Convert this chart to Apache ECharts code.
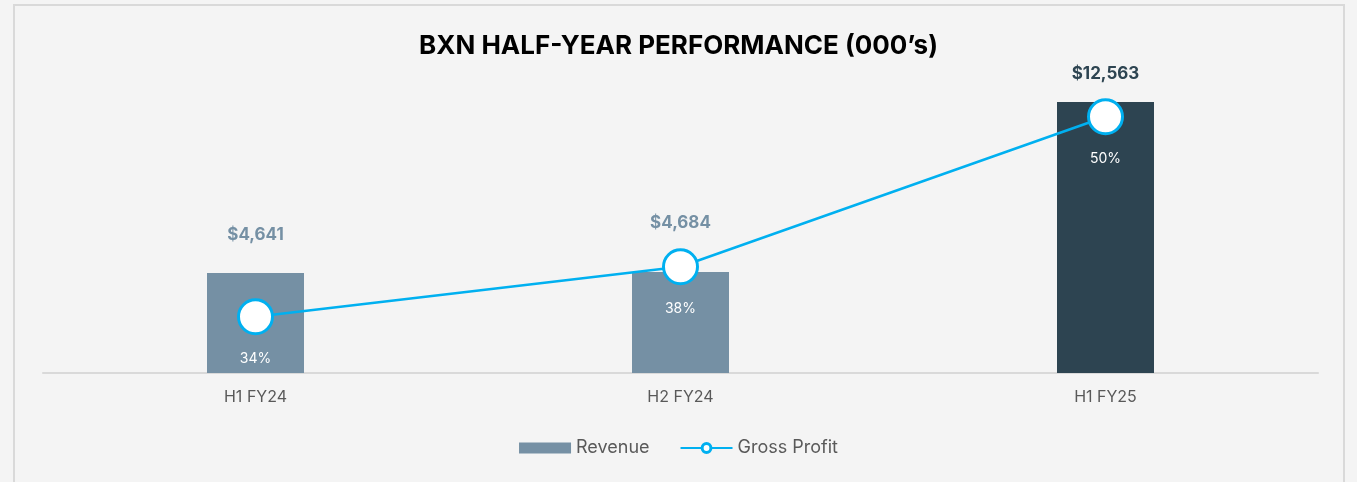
<!DOCTYPE html>
<html>
<head>
<meta charset="utf-8">
<script src="https://cdn.jsdelivr.net/npm/echarts@6/dist/echarts.min.js"></script>
<style>
  html, body { margin: 0; padding: 0; background: #f4f4f4; }
  #frame { position: absolute; left: 13px; top: 4px; width: 1332px; height: 490px; border: 2px solid #d9d9d9; box-sizing: border-box; }
  #chart { width: 1357px; height: 482px; }
</style>
</head>
<body>
<div id="frame"></div>
<div id="chart"></div>
<script>
const categories = ['H1 FY24', 'H2 FY24', 'H1 FY25']
const revenue = [4641, 4684, 12563]
const revenueLabels = ['$4,641', '$4,684', '$12,563']
const grossMargin = [34, 38, 50]

const barColors = ['#7590a4', '#7590a4', '#2d4451']
const labelOffsets = [39, 51, 30]

const chart = echarts.init(document.getElementById('chart'))

chart.setOption({
  backgroundColor: 'transparent',
  textStyle: { fontFamily: 'Inter' },
  title: {
    text: 'BXN HALF-YEAR PERFORMANCE (000\u2019s)',
    left: 'center',
    top: 28,
    textStyle: { fontFamily: 'Inter', fontSize: 26, fontWeight: 'bold', color: '#000' }
  },
  legend: {
    bottom: 20,
    left: 'center',
    itemGap: 30,
    itemWidth: 52,
    itemHeight: 11,
    textStyle: { color: '#595959', fontSize: 18 },
    data: [
      { name: 'Revenue', icon: 'rect' },
      { name: 'Gross Profit', itemStyle: { borderWidth: 3 } }
    ]
  },
  grid: { left: 43, right: 39, top: 102, bottom: 109 },
  xAxis: {
    type: 'category',
    data: categories,
    axisLine: { lineStyle: { color: '#d9d9d9', width: 2 } },
    axisTick: { show: false },
    axisLabel: { color: '#595959', fontSize: 16, margin: 16 }
  },
  yAxis: [
    { type: 'value', min: 0, max: 12563, show: false },
    { type: 'value', min: 29.5, max: 51.18, show: false }
  ],
  series: [
    {
      name: 'Revenue',
      type: 'bar',
      barWidth: 97,
      itemStyle: { color: '#7590a4' },
      data: revenue.map((v, i) => ({
        value: v,
        itemStyle: { color: barColors[i] },
        label: {
          show: true,
          position: 'top',
          distance: labelOffsets[i] - 10,
          formatter: revenueLabels[i],
          color: barColors[i],
          fontSize: 17,
          fontWeight: 'bold'
        }
      }))
    },
    {
      name: 'Gross Profit',
      type: 'line',
      yAxisIndex: 1,
      data: grossMargin,
      symbol: 'circle',
      symbolSize: 34,
      lineStyle: { color: '#00b0f0', width: 2.5 },
      itemStyle: { color: '#fff', borderColor: '#00b0f0', borderWidth: 3 },
      label: {
        show: true,
        position: 'bottom',
        distance: 17,
        formatter: '{c}%',
        color: '#fff',
        fontSize: 14
      },
      z: 5
    }
  ]
})
</script>
</body>
</html>
